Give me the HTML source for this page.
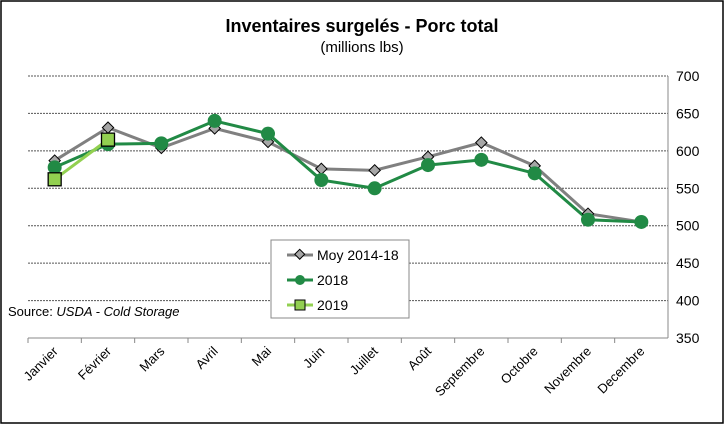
<!DOCTYPE html>
<html><head><meta charset="utf-8"><style>
body{margin:0;background:#fff;}
svg text{font-family:"Liberation Sans",Arial,sans-serif;}
</style></head><body>
<svg width="725" height="425" xmlns="http://www.w3.org/2000/svg">
<rect x="1" y="1" width="722" height="422" fill="#fff" stroke="#000" stroke-width="1.5"/>
<text x="362" y="32" text-anchor="middle" font-size="18" font-weight="bold">Inventaires surgelés - Porc total</text>
<text x="362" y="52" text-anchor="middle" font-size="15">(millions lbs)</text>
<g id="grid"></g>
<g id="series"></g>
<text x="8" y="316" font-size="13">Source: <tspan font-style="italic">USDA - Cold Storage</tspan></text>
<g>
<rect x="271" y="240" width="138" height="78" fill="#fff" stroke="#888"/>
<g><line x1="287" y1="255" x2="313" y2="255" stroke="#808080" stroke-width="3"/><rect x="295.5" y="250.5" width="7" height="7" transform="rotate(45 299 255)" fill="#a6a6a6" stroke="#000"/><text x="317" y="260" font-size="14">Moy 2014-18</text></g>
<g><line x1="287" y1="280" x2="313" y2="280" stroke="#218a45" stroke-width="3"/><circle cx="300" cy="280" r="5" fill="#218a45"/><text x="317" y="285" font-size="14">2018</text></g>
<g><line x1="287" y1="305" x2="313" y2="305" stroke="#92d050" stroke-width="3"/><rect x="295" y="300" width="10" height="10" fill="#92d050" stroke="#000"/><text x="317" y="310" font-size="14">2019</text></g>
</g>
</svg>
<script>
const categories=["Janvier","Février","Mars","Avril","Mai","Juin","Juillet","Août","Septembre","Octobre","Novembre","Decembre"];
const moy=[587,631,604,630,612,576,574,592,611,580,516,505];
const s2018=[578,609,610,640,623,561,550,581,588,570,508,505];
const s2019=[562,615];
const yTicks=[350,400,450,500,550,600,650,700];
const NS="http://www.w3.org/2000/svg";
const L=28,R=668,T=76,B=338,ymin=350,ymax=700;
const bw=(R-L)/categories.length;
const X=i=>L+bw*(i+0.5);
const Y=v=>B-(v-ymin)/(ymax-ymin)*(B-T);
function mk(tag,attrs,parent){const e=document.createElementNS(NS,tag);for(const k in attrs)e.setAttribute(k,attrs[k]);parent.appendChild(e);return e;}
const g=document.getElementById('grid'),sg=document.getElementById('series');
yTicks.forEach(v=>{
 if(v>ymin){const l=mk('line',{x1:L,x2:R,y1:Y(v),y2:Y(v),stroke:'#555','stroke-dasharray':'2,1','stroke-width':1},g);
 
 }
 const t=mk('text',{x:R+8,y:Y(v)+5,'font-size':14},g);t.textContent=v;
 
 
});
const ax=mk('line',{x1:L,x2:R,y1:B,y2:B,stroke:'#888'},g);


const ay=mk('line',{x1:R,x2:R,y1:T,y2:B,stroke:'#888'},g);


categories.forEach((c,i)=>{
 const tk=mk('line',{x1:L+bw*i,x2:L+bw*i,y1:B,y2:B+5,stroke:'#888'},g);
 
 
 const t=mk('text',{x:X(i)+4,y:B+14,'font-size':13,'text-anchor':'end',transform:`rotate(-45 ${X(i)+4} ${B+14})`},g);t.textContent=c;
 
 
});
function line(data,color,name){const p=mk('polyline',{points:data.map((v,i)=>X(i)+','+Y(v)).join(' '),fill:'none',stroke:color,'stroke-width':3},sg);
 
 }
line(moy,'#808080','moy');line(s2018,'#218a45','s2018');line(s2019,'#92d050','s2019');
moy.forEach((v,i)=>{const m=mk('rect',{x:X(i)-4,y:Y(v)-4,width:8,height:8,transform:`rotate(45 ${X(i)} ${Y(v)})`,fill:'#a6a6a6',stroke:'#000'},sg);
 
 });
s2018.forEach((v,i)=>{const m=mk('circle',{cx:X(i),cy:Y(v),r:7,fill:'#218a45'},sg);
 
 });
s2019.forEach((v,i)=>{const m=mk('rect',{x:X(i)-6.5,y:Y(v)-6.5,width:13,height:13,fill:'#92d050',stroke:'#000','stroke-width':1.3},sg);
 
 });
</script>
</body></html>
